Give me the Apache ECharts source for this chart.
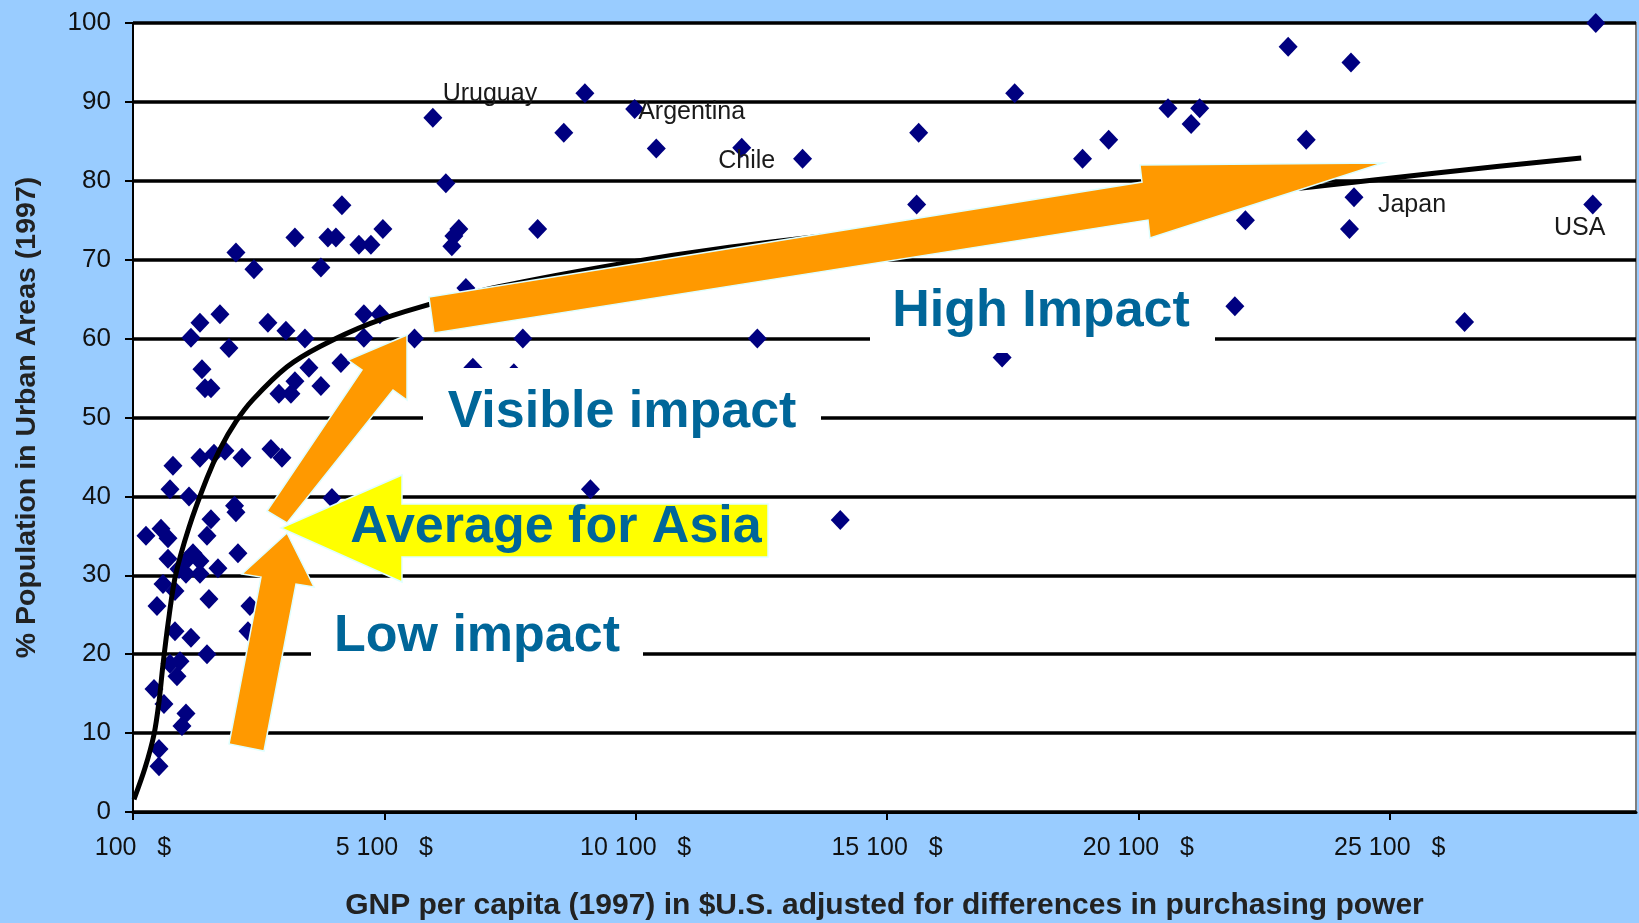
<!DOCTYPE html>
<html>
<head>
<meta charset="utf-8">
<title>Urbanisation and income, 1997</title>
<script src="https://cdn.jsdelivr.net/npm/echarts@6/dist/echarts.min.js"></script>
<style>
  html, body { margin: 0; padding: 0; background: #99CCFF; }
  #chart { width: 1639px; height: 923px; }
</style>
</head>
<body>
<div id="chart"></div>
<script>
// GNP per capita (1997, PPP $) and urban population share (%) for each country
const gnpPerCapita = [
  29200, 23080, 24330, 23440, 20690, 21320, 21150, 19510, 18990, 17640,
  15730, 15690, 22230, 24300, 22020, 26590, 17390, 13420, 10510, 8670,
  6065, 6324, 8150, 12520, 7855, 5700, 6722, 6861, 7676, 9200, 14170,
  4256, 3321, 3977, 4137, 4594, 4833, 5071, 6443, 6483, 6582,
  2148, 2506, 3838, 1253, 1432, 1830, 2009, 2784, 3142, 3520,
  4693, 4693, 5011, 1472, 1532, 1651, 4236, 3600, 3321, 3003,
  3242, 3838,
  1432, 1711, 1929, 895, 2267, 2844, 3063, 836, 1214, 2120,
  2148, 4057, 358, 657, 796, 1651, 1572, 796, 1293, 1154,
  1432, 1154, 1432, 1790, 1015, 2188, 697, 935, 577, 1611,
  2426, 2387, 935, 1253, 1572, 836, 1035, 975, 518, 716,
  1154, 1074, 617, 617
];
const urbanShare = [
  100, 97.0, 95.0, 85.2, 89.2, 89.2, 87.2, 85.2, 82.8, 91.1,
  86.1, 77.0, 75.0, 73.9, 64.1, 62.1, 57.6, 82.8, 84.1, 86.1,
  88.0, 79.7, 73.9, 60.0, 60.0, 60.0, 66.4, 56.3, 55.6, 40.9, 37.0,
  76.9, 72.8, 72.8, 72.8, 71.9, 71.9, 73.9, 71.7, 73.0, 73.9,
  70.9, 68.8, 69.0, 60.1, 62.0, 63.1, 58.8, 62.0, 61.0, 60.0,
  63.1, 60.1, 63.1, 56.1, 53.7, 53.7, 56.9, 56.3, 54.6, 53.0,
  53.0, 54.0,
  44.9, 45.4, 45.8, 43.9, 44.9, 46.0, 44.9, 40.9, 40.0, 38.8,
  38.0, 39.8, 35.0, 35.9, 34.7, 37.1, 35.0, 32.1, 32.8, 31.8,
  31.8, 30.2, 30.2, 30.9, 30.8, 32.8, 28.9, 28.0, 26.1, 27.0,
  26.1, 22.9, 22.9, 22.1, 20.0, 18.8, 19.1, 17.2, 15.6, 13.7,
  12.5, 10.9, 8.0, 5.8
];

// Countries named on the chart
const namedCountries = ['Uruguay', 'Argentina', 'Chile', 'Japan', 'USA'];
const namedGnp = [9090, 10080, 12210, 24390, 29140];
const namedUrban = [91.1, 89.1, 84.2, 77.9, 77.0];

// Fitted trend through the cloud
const trendGnp = [
  120, 340, 520, 620, 690, 800, 940, 1210, 1570, 1830,
  2150, 2490, 3160, 3820, 4810, 5810, 7400, 9900, 11750,
  14380, 17000, 20000, 23540, 26030, 28910
];
const trendUrban = [
  1.6, 5.6, 9.9, 14.1, 18.3, 24.0, 29.8, 36.0, 42.3, 46.0,
  49.5, 52.3, 56.4, 59.0, 61.9, 64.0, 66.6, 69.6, 71.4,
  73.4, 75.2, 77.0, 79.2, 81.0, 82.9
];

// Axis ticks
const xTickValues = [100, 5100, 10100, 15100, 20100, 25100];
const xTickLabels = ['100   $', '5 100   $', '10 100   $', '15 100   $', '20 100   $', '25 100   $'];
const yTickStep = 10;

const FONT = "'Liberation Sans', Arial, sans-serif";
const TEAL = '#006699';
const ORANGE = '#FF9900';
const EDGE = '#DFFFFF';
const MARK_SIZE = [19, 20];

// where each country name sits relative to its marker centre
const nameOffsets = {
  Uruguay: [-95, 1],
  Argentina: [57, 3],
  Chile: [5, 13],
  Japan: [58, 8],
  USA: [-13, 24]
};

const points = gnpPerCapita.map((g, i) => [g, urbanShare[i]]);
const named = namedCountries.map((n, i) => ({
  name: n,
  value: [namedGnp[i], namedUrban[i]],
  label: {
    position: [MARK_SIZE[0] / 2 + nameOffsets[n][0], MARK_SIZE[1] / 2 + nameOffsets[n][1]],
    align: 'center', verticalAlign: 'middle'
  }
}));
const trend = trendGnp.map((g, i) => [g, trendUrban[i]]);

const chart = echarts.init(document.getElementById('chart'), null, { renderer: 'canvas' });

function poly(points, fill, z) {
  return {
    type: 'polygon', z: z, silent: true,
    shape: { points: points },
    style: { fill: fill, stroke: EDGE, lineWidth: 1.5 }
  };
}
function whiteBox(x1, y1, x2, y2) {
  return {
    type: 'rect', z: 90, silent: true,
    shape: { x: x1, y: y1, width: x2 - x1, height: y2 - y1 },
    style: { fill: '#ffffff' }
  };
}
function caption(text, x, y) {
  return {
    type: 'text', z: 120, silent: true, x: x, y: y,
    style: {
      text: text, fill: TEAL, font: 'bold 52px ' + FONT,
      align: 'center', verticalAlign: 'middle'
    }
  };
}

chart.setOption({
  animation: false,
  backgroundColor: '#99CCFF',
  grid: {
    left: 133, right: 3, top: 23, bottom: 111,
    show: true, backgroundColor: '#ffffff',
    borderColor: '#808080', borderWidth: 2,
    containLabel: false, outerBoundsMode: 'none'
  },
  xAxis: {
    type: 'value', min: 100, max: 30000,
    name: 'GNP per capita (1997) in $U.S. adjusted for differences in purchasing power',
    nameLocation: 'middle', nameGap: 79, nameMoveOverlap: false,
    nameTextStyle: { fontFamily: FONT, fontSize: 30, fontWeight: 'bold', color: '#222' },
    axisLine: { show: true, onZero: false, lineStyle: { color: '#000', width: 3 } },
    axisTick: { show: true, customValues: xTickValues, length: 8, lineStyle: { color: '#000', width: 2 } },
    axisLabel: {
      customValues: xTickValues, margin: 24,
      fontFamily: FONT, fontSize: 25, color: '#111',
      formatter: (v) => {
        const i = xTickValues.indexOf(v);
        return i >= 0 ? xTickLabels[i] : '';
      }
    },
    splitLine: { show: false }
  },
  yAxis: {
    type: 'value', min: 0, max: 100, interval: yTickStep,
    name: '% Population in Urban Areas (1997)',
    nameLocation: 'middle', nameRotate: 90, nameGap: 91, nameMoveOverlap: false,
    nameTextStyle: { fontFamily: FONT, fontSize: 28.5, fontWeight: 'bold', color: '#222' },
    axisLine: { show: true, onZero: false, lineStyle: { color: '#000', width: 2 } },
    axisTick: { show: true, length: 8, lineStyle: { color: '#000', width: 2 } },
    axisLabel: { margin: 22, fontFamily: FONT, fontSize: 26, color: '#111' },
    splitLine: { show: true, lineStyle: { color: '#000', width: 3.5 } }
  },
  series: [
    {
      type: 'scatter', name: 'countries', data: points, z: 3,
      symbol: 'diamond', symbolSize: MARK_SIZE,
      itemStyle: { color: '#000080', opacity: 1 }
    },
    {
      type: 'scatter', name: 'named', data: named, z: 3,
      symbol: 'diamond', symbolSize: MARK_SIZE,
      itemStyle: { color: '#000080', opacity: 1 },
      label: {
        show: true, formatter: '{b}',
        fontFamily: FONT, fontSize: 25, color: '#1a1a1a'
      },
      labelLayout: { hideOverlap: false }
    },
    {
      type: 'line', name: 'trend', data: trend, z: 4,
      showSymbol: false, symbol: 'none', smooth: 0.3,
      lineStyle: { color: '#000', width: 5 }
    }
  ],
  graphic: [
    whiteBox(870, 272, 1215, 353),
    whiteBox(423, 368, 821, 462),
    whiteBox(311, 598, 643, 682),
    // low impact arrow
    poly([[229, 744], [261, 577], [242, 574], [287, 533], [314, 587], [296, 584], [264, 751]], ORANGE, 100),
    // visible impact arrow
    poly([[267, 511], [362, 370], [348, 360], [407, 335], [407, 400], [393, 390], [287, 523]], ORANGE, 100),
    // high impact arrow
    poly([[429, 297], [1142, 182], [1140, 165], [1383, 163], [1150, 238], [1148, 220], [434, 333]], ORANGE, 100),
    // average for Asia marker
    poly([[281, 528], [402, 475], [402, 504], [768, 504], [768, 557], [402, 557], [402, 582]], '#FFFF00', 105),
    caption('High Impact', 1041, 312),
    caption('Visible impact', 622, 413),
    caption('Low impact', 477, 637),
    caption('Average for Asia', 556, 528)
  ]
});
</script>
</body>
</html>
